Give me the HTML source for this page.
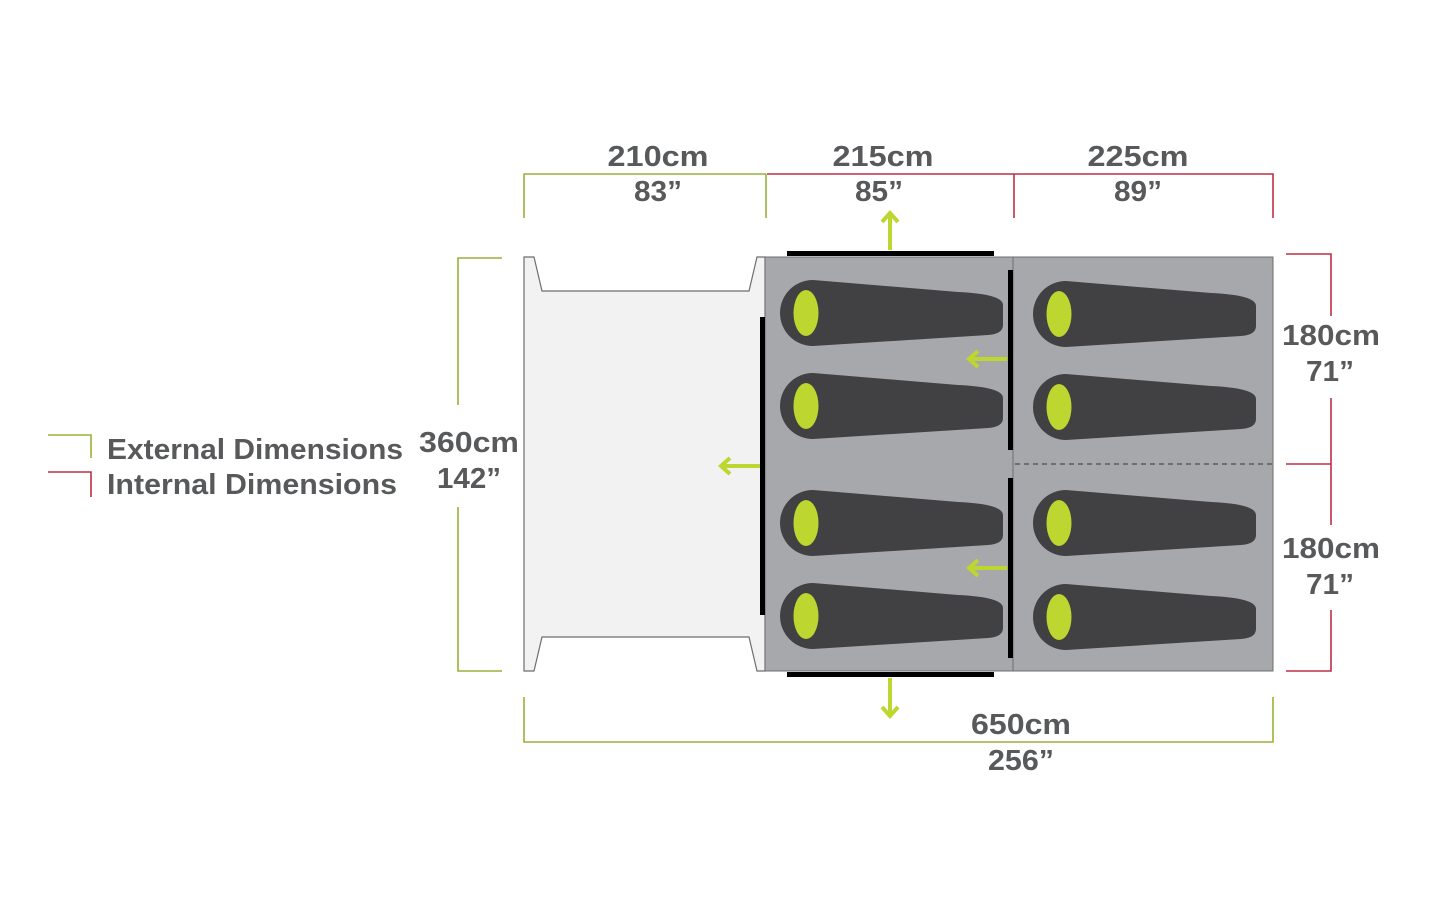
<!DOCTYPE html>
<html><head><meta charset="utf-8"><style>
html,body{margin:0;padding:0;background:#fff;}
svg{display:block;}
text{font-family:"Liberation Sans",sans-serif;font-weight:bold;fill:#58595b;font-size:29px;}
</style></head><body>
<svg width="1445" height="913" viewBox="0 0 1445 913" xmlns="http://www.w3.org/2000/svg">
<defs>
<g id="bag">
<path d="M35,0 L180,12 Q225,14 225,25 L225,45 Q225,54 210,55 L35,66 A33,33 0 0 1 35,0 Z" fill="#414042"/>
<ellipse cx="28" cy="33" rx="12.5" ry="23" fill="#bed630"/>
</g>
</defs>
<path d="M524,257 L534,257 L542,291 L749,291 L757,257 L765,257 L765,671 L757,671 L749,637 L542,637 L534,671 L524,671 Z" fill="#f2f2f2" stroke="#6d6e70" stroke-width="1.2"/>
<rect x="765" y="257" width="248" height="414" fill="#a7a8ab" stroke="#6d6e70" stroke-width="1"/>
<rect x="1013" y="257" width="260" height="414" fill="#a7a8ab" stroke="#6d6e70" stroke-width="1"/>
<line x1="1015" y1="464" x2="1273" y2="464" stroke="#333" stroke-width="1" stroke-dasharray="5,4"/>
<rect x="787" y="251" width="207" height="5" fill="#000"/>
<rect x="787" y="672" width="207" height="5" fill="#000"/>
<rect x="760" y="317" width="5" height="298" fill="#000"/>
<rect x="1008" y="270" width="5" height="180" fill="#000"/>
<rect x="1008" y="478" width="5" height="180" fill="#000"/>
<use href="#bag" x="778" y="280"/>
<use href="#bag" x="778" y="373"/>
<use href="#bag" x="778" y="490"/>
<use href="#bag" x="778" y="583"/>
<use href="#bag" x="1031" y="281"/>
<use href="#bag" x="1031" y="374"/>
<use href="#bag" x="1031" y="490"/>
<use href="#bag" x="1031" y="584"/>
<g stroke="#bed630" stroke-width="4" fill="none" stroke-linecap="butt">
<line x1="890" y1="250" x2="890" y2="214"/><polyline points="882,222 890,213 898,222"/>
<line x1="890" y1="678" x2="890" y2="715"/><polyline points="882,707 890,716 898,707"/>
<line x1="1007" y1="359" x2="970" y2="359"/><polyline points="978,351 969,359 978,367"/>
<line x1="1007" y1="568" x2="970" y2="568"/><polyline points="978,560 969,568 978,576"/>
<line x1="760" y1="466" x2="722" y2="466"/><polyline points="730,458 721,466 730,474"/>
</g>
<g fill="none" stroke-width="1.6">
<polyline points="524,218 524,174 766,174" stroke="#98b23a"/>
<line x1="766" y1="174" x2="766" y2="218" stroke="#98b23a"/>
<polyline points="767,174 1273,174 1273,218" stroke="#bf2f45"/>
<line x1="1014" y1="174" x2="1014" y2="218" stroke="#bf2f45"/>
<polyline points="524,697 524,742 1273,742 1273,697" stroke="#98b23a"/>
<polyline points="502,258 458,258 458,405" stroke="#98b23a"/>
<polyline points="458,507 458,671 502,671" stroke="#98b23a"/>
<polyline points="1286,254 1331,254 1331,316" stroke="#bf2f45"/>
<line x1="1331" y1="398" x2="1331" y2="525" stroke="#bf2f45"/>
<line x1="1286" y1="464" x2="1331" y2="464" stroke="#bf2f45"/>
<polyline points="1331,610 1331,671 1286,671" stroke="#bf2f45"/>
<polyline points="48,435 91,435 91,458" stroke="#98b23a"/>
<polyline points="48,472 91,472 91,497" stroke="#bf2f45"/>
</g>
<g text-anchor="middle">
<text x="658" y="166" textLength="101" lengthAdjust="spacingAndGlyphs">210cm</text>
<text x="658" y="201" textLength="48" lengthAdjust="spacingAndGlyphs">83”</text>
<text x="883" y="166" textLength="101" lengthAdjust="spacingAndGlyphs">215cm</text>
<text x="879" y="201" textLength="48" lengthAdjust="spacingAndGlyphs">85”</text>
<text x="1138" y="166" textLength="101" lengthAdjust="spacingAndGlyphs">225cm</text>
<text x="1138" y="201" textLength="48" lengthAdjust="spacingAndGlyphs">89”</text>
<text x="1331" y="345" textLength="98" lengthAdjust="spacingAndGlyphs">180cm</text>
<text x="1330" y="381" textLength="48" lengthAdjust="spacingAndGlyphs">71”</text>
<text x="1331" y="558" textLength="98" lengthAdjust="spacingAndGlyphs">180cm</text>
<text x="1330" y="594" textLength="48" lengthAdjust="spacingAndGlyphs">71”</text>
<text x="469" y="452" textLength="100" lengthAdjust="spacingAndGlyphs">360cm</text>
<text x="469" y="488" textLength="64" lengthAdjust="spacingAndGlyphs">142”</text>
<text x="1021" y="734" textLength="100" lengthAdjust="spacingAndGlyphs">650cm</text>
<text x="1021" y="770" textLength="66" lengthAdjust="spacingAndGlyphs">256”</text>
</g>
<text x="107" y="459" textLength="296" lengthAdjust="spacingAndGlyphs">External Dimensions</text>
<text x="107" y="494" textLength="290" lengthAdjust="spacingAndGlyphs">Internal Dimensions</text>
</svg>
</body></html>
